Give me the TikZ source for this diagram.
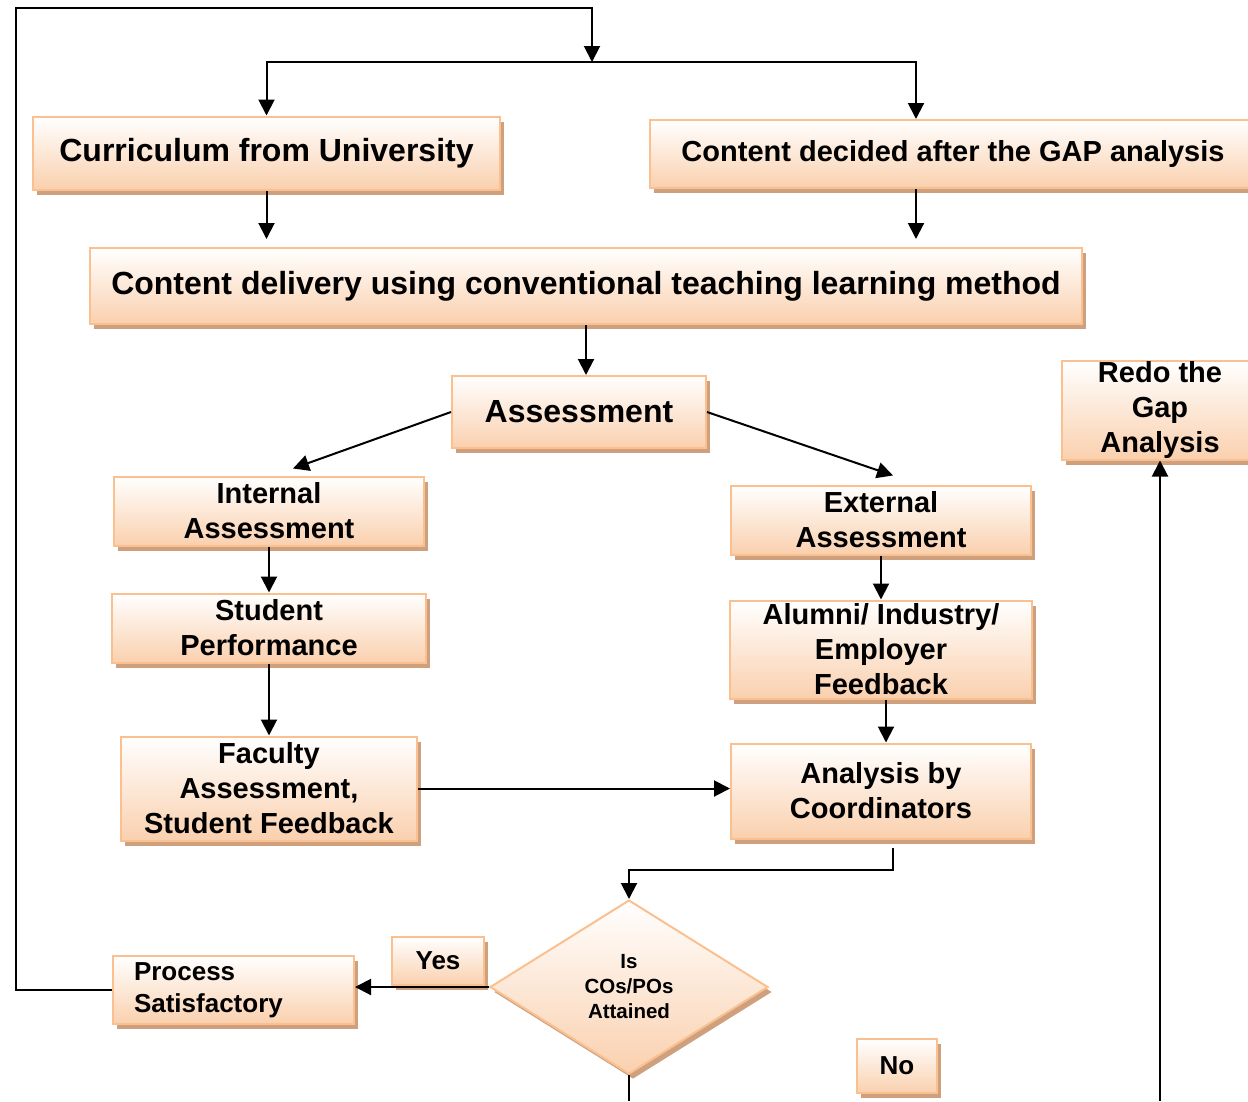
\documentclass[tikz,border=0pt]{standalone}
\usepackage{fontspec}
\setmainfont{Liberation Sans}
\usepackage{tikz}
\usetikzlibrary{positioning,arrows.meta,shapes,shadows}
\usepackage{xcolor}
\definecolor{boxline}{RGB}{250,192,143}
\definecolor{boxfill}{RGB}{250,208,174}
\definecolor{boxshade}{RGB}{206,160,126}

\begin{document}
\begin{tikzpicture}[
        x=1pt, y=-1pt,
        peach/.style={draw=boxline, line width=2pt, top color=white, bottom color=boxfill, drop shadow={shadow xshift=4pt, shadow yshift=-5pt, fill=boxshade, opacity=1}, inner sep=0pt, align=center},
        block/.style={rectangle, peach, font=\bfseries\fontsize{29}{35}\selectfont},
        bigblock/.style={block, font=\bfseries\fontsize{32}{38}\selectfont},
        tag/.style={block, font=\bfseries\fontsize{26}{32}\selectfont},
        decision/.style={diamond, peach, minimum width=278pt, minimum height=174pt, font=\bfseries\fontsize{20.5}{25}\selectfont},
        arrow/.style={line width=2pt, -{Triangle[width=16pt,length=16pt]}},
        link/.style={line width=2pt}
    ]
        \useasboundingbox (0,0) rectangle (1248,1101);

        % Sources of content
        \node[bigblock, minimum width=467pt, minimum height=73pt] (curr) at (266.5,153) {Curriculum from University};
        \node[block, minimum width=606pt, minimum height=68pt] (gap) at (953,154) {Content decided after the GAP analysis};

        % Delivery
        \node[bigblock, minimum width=992pt, minimum height=76pt] (deliv) at (586,286) {Content delivery using conventional teaching learning method};
        \node[bigblock, minimum width=254pt, minimum height=72pt] (assess) at (579,412) {Assessment};

        % Internal branch
        \node[block, minimum width=310pt, minimum height=69pt] (intern) at (269,511) {Internal\\Assessment};
        \node[block, minimum width=314pt, minimum height=69pt, below=46pt of intern] (perf) {Student\\Performance};
        \node[block, minimum width=296pt, minimum height=104pt, below=72pt of perf] (fac) {Faculty\\Assessment,\\Student Feedback};

        % External branch
        \node[block, minimum width=300pt, minimum height=69pt] (extern) at (881,520) {External\\Assessment};
        \node[block, minimum width=302pt, minimum height=98pt, below=44pt of extern] (fback) {Alumni/ Industry/\\Employer\\Feedback};
        \node[block, minimum width=300pt, minimum height=95pt, below=43pt of fback] (anal) {Analysis by\\Coordinators};

        % Redo
        \node[block, minimum width=196pt, minimum height=99pt] (redo) at (1160,410) {Redo the\\Gap\\Analysis};

        % Decision
        \node[decision] (attain) at (629,987) {Is\\COs/POs\\Attained};
        \node[tag, align=left, text width=199pt, inner xsep=21pt, minimum height=68pt] (proc) at (233.5,990) {Process\\Satisfactory};
        \node[tag, minimum width=92pt, minimum height=48pt] (yes) at (438,961) {Yes};
        \node[tag, minimum width=80pt, minimum height=54pt] (no) at (897,1066) {No};

        % Helper points
        \coordinate (corner) at (16,8);
        \coordinate (split) at (592,62);
        \coordinate (gx) at (916,0);
        \coordinate (attainend) at (629,1101);
        \coordinate (redoend) at (1160,1101);

        % Arrows
        \draw[arrow] (proc.west) -| (corner) -| (split);
        \draw[arrow] (split) -| (curr.north);
        \draw[arrow] (split) -| (gap.north -| gx);
        \draw[arrow, shorten >=8pt] (curr.south) -- (curr.south |- deliv.north);
        \draw[arrow, shorten >=8pt] (gap.south -| gx) -- (deliv.north -| gx);
        \draw[arrow] (deliv.south) -- (deliv.south |- assess.north);
        \draw[arrow] (assess.west) -- ([xshift=24pt,yshift=7pt]intern.north);
        \draw[arrow] (assess.east) -- ([xshift=12pt,yshift=9pt]extern.north);
        \draw[arrow] (intern) -- (perf);
        \draw[arrow] (perf) -- (fac);
        \draw[arrow] (extern) -- (fback);
        \draw[arrow] ([xshift=5pt]fback.south) -- ([xshift=5pt]anal.north);
        \draw[arrow] (fac.east) -- (fac.east -| anal.west);
        \draw[arrow] ([xshift=12pt,yshift=-8pt]anal.south) -- ++(0,22) -| (attain.north);
        \draw[arrow] (attain.west) -- (attain.west -| proc.east);
        \draw[link] (attain.south) -- (attainend);
        \draw[arrow] (redoend) -- (redo.south);
    \end{tikzpicture}
\end{document}
